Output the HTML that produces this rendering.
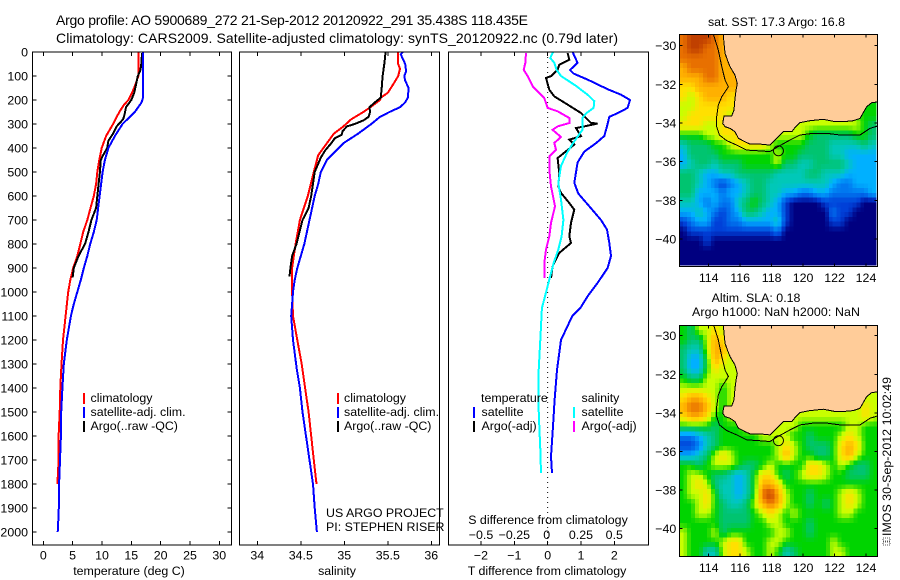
<!DOCTYPE html>
<html>
<head>
<meta charset="utf-8">
<title>Argo profile</title>
<style>
html,body{margin:0;padding:0;background:#fff;}
svg{display:block;}
text{font-family:"Liberation Sans",sans-serif;font-size:12.4px;fill:#000;}
</style>
</head>
<body>
<svg id="chart" width="900" height="580" viewBox="0 0 900 580" xmlns="http://www.w3.org/2000/svg">
  <text x="56" y="25" style="font-size:14px" textLength="472">Argo profile: AO 5900689_272 21-Sep-2012 20120922_291 35.438S 118.435E</text>
  <text x="56" y="43" style="font-size:14px" textLength="562">Climatology: CARS2009. Satellite-adjusted climatology: synTS_20120922.nc (0.79d later)</text>

  <g id="temp-panel"></g>
  <g id="sal-panel"></g>
  <g id="diff-panel"></g>
  <g id="sst-map"></g>
  <g id="sla-map"></g>

  <text x="129" y="575" text-anchor="middle">temperature (deg C)</text>
  <text x="337" y="575" text-anchor="middle">salinity</text>
  <text x="547" y="575" text-anchor="middle">T difference from climatology</text>
  <text x="548" y="524" text-anchor="middle">S difference from climatology</text>

  <g>
    <rect x="83" y="393" width="2" height="11" fill="#ff0000"/>
    <rect x="83" y="407" width="2" height="11" fill="#0000ff"/>
    <rect x="83" y="421" width="2" height="11" fill="#000"/>
    <text x="90.5" y="402">climatology</text>
    <text x="90.5" y="416">satellite-adj. clim.</text>
    <text x="90.5" y="430">Argo(..raw -QC)</text>
  </g>
  <g>
    <rect x="337" y="393" width="2" height="11" fill="#ff0000"/>
    <rect x="337" y="407" width="2" height="11" fill="#0000ff"/>
    <rect x="337" y="421" width="2" height="11" fill="#000"/>
    <text x="344" y="402">climatology</text>
    <text x="344" y="416">satellite-adj. clim.</text>
    <text x="344" y="430">Argo(..raw -QC)</text>
  </g>
  <text x="326" y="517">US ARGO PROJECT</text>
  <text x="326" y="531">PI: STEPHEN RISER</text>

  <g>
    <text x="481" y="402">temperature</text>
    <text x="581.5" y="402">salinity</text>
    <rect x="473" y="407" width="2" height="11" fill="#0000ff"/>
    <rect x="473" y="421" width="2" height="11" fill="#000"/>
    <rect x="573" y="407" width="2" height="11" fill="#00ffff"/>
    <rect x="573" y="421" width="2" height="11" fill="#ff00ff"/>
    <text x="481.5" y="416">satellite</text>
    <text x="481.5" y="430">Argo(-adj)</text>
    <text x="581.5" y="416">satellite</text>
    <text x="581.5" y="430">Argo(-adj)</text>
  </g>

  <text x="776.5" y="26" text-anchor="middle">sat. SST: 17.3 Argo: 16.8</text>
  <text x="756" y="302" text-anchor="middle">Altim. SLA: 0.18</text>
  <text x="776" y="316" textLength="168" text-anchor="middle">Argo h1000: NaN h2000: NaN</text>

  <text transform="translate(891,536) rotate(-90)" textLength="159">IMOS 30-Sep-2012 10:02:49</text>
  <g fill="none" stroke="#555" stroke-width="1" stroke-dasharray="1 1">
    <rect x="883" y="538" width="7" height="3"/>
    <rect x="883" y="542" width="7" height="3"/>
  </g>
</svg>
<script>
/* ---------- axis ticks ---------- */
const depthTicks = [0,100,200,300,400,500,600,700,800,900,1000,1100,1200,1300,1400,1500,1600,1700,1800,1900,2000];
const tempTicks = [0,5,10,15,20,25,30];
const salTicks = [34,34.5,35,35.5,36];
const salTickLabels = ['34','34.5','35','35.5','36'];
const tDiffTicks = [-2,-1,0,1,2];
const sDiffTicks = [-0.5,-0.25,0,0.25,0.5];
const lonTicks = [114,116,118,120,122,124];
const latTicks = [-30,-32,-34,-36,-38,-40];

/* ---------- temperature profiles ---------- */
const climTempDepth = [0,100,150,200,220,250,300,350,400,450,500,550,600,650,700,750,800,850,900,950,1000,1100,1200,1300,1400,1500,1600,1700,1800];
const climTemp = [16.25,16.2,15.5,14.5,13.75,12.95,11.9,10.7,9.95,9.55,9.2,9.0,8.6,8.05,7.5,6.8,6.3,5.8,5.1,4.6,4.25,3.8,3.35,3.1,2.9,2.8,2.6,2.6,2.4];
const satTempDepth = [0,190,210,250,300,350,400,450,500,600,700,750,800,850,900,950,1000,1050,1100,1200,1300,1400,1500,1600,1700,1800,1900,1950,2000];
const satTemp = [17,17,16.75,15.6,13.5,12.2,11.1,10.5,10.1,9.6,9.1,8.6,8,7.5,6.9,6.4,5.8,5.2,4.7,4,3.5,3.25,3.05,3,2.85,2.7,2.65,2.55,2.45];
const argoTempDepth = [5,40,60,80,90,100,130,170,200,230,260,280,295,310,340,370,400,430,450,500,600,650,700,750,800,850,900,940];
const argoTemp = [16.8,16.76,16.65,16.5,16.3,16.1,15.85,15.5,15,14.1,13.85,13.6,13.07,12.5,11.9,11.1,10.9,10.2,9.8,9.65,9.2,9,8.2,7.7,7.1,6,5.2,5];

/* ---------- salinity profiles ---------- */
const climSalDepth = [0,50,70,100,130,170,190,200,230,250,280,310,340,380,430,500,600,700,800,900,1000,1100,1200,1300,1400,1500,1600,1700,1800];
const climSal = [35.62,35.62,35.64,35.62,35.57,35.5,35.42,35.41,35.3,35.22,35.08,34.99,34.88,34.8,34.7,34.65,34.58,34.49,34.44,34.4,34.4,34.41,34.46,34.51,34.55,34.59,34.62,34.65,34.68];
const satSalDepth = [0,10,50,80,100,120,150,190,210,230,250,270,300,340,380,420,450,500,550,600,700,800,850,900,950,1000,1050,1100,1200,1325,1400,1500,1600,1700,1800,1900,2000];
const satSal = [35.67,35.65,35.7,35.71,35.69,35.7,35.74,35.73,35.7,35.64,35.52,35.41,35.31,35.16,34.99,34.88,34.8,34.73,34.7,34.66,34.6,34.54,34.5,34.46,34.43,34.41,34.4,34.39,34.41,34.455,34.49,34.52,34.56,34.6,34.64,34.66,34.685];
const argoSalDepth = [0,50,100,150,190,210,230,250,270,285,300,310,330,345,360,380,410,440,500,600,650,700,800,850,900,935];
const argoSal = [35.475,35.46,35.44,35.43,35.42,35.35,35.29,35.295,35.28,35.22,35.12,35.03,34.98,34.97,34.89,34.85,34.78,34.73,34.66,34.62,34.59,34.52,34.45,34.4,34.38,34.37];

/* ---------- differences from climatology ---------- */
const satTDiffDepth = [0,25,45,75,90,115,155,178,200,233,255,270,310,350,380,415,460,545,590,643,700,740,795,850,900,962,1018,1067,1100,1200,1325,1450,1560,1685,1755];
const satTDiff = [0.75,0.83,0.9,0.67,0.78,1.2,1.8,2.2,2.47,2.4,2.1,1.85,1.78,1.7,1.45,1.1,0.9,0.8,0.92,1.25,1.6,1.78,1.85,1.9,1.8,1.5,1.2,0.98,0.74,0.4,0.28,0.21,0.16,0.1,0.13];
const argoTDiffDepth = [4,32,53,74,101,108,157,185,219,254,296,298,310,317,351,365,386,442,504,560,587,629,657,712,768,796,837,893,942];
const argoTDiff = [0.6,0.65,0.35,0.3,0.1,-0.05,0.05,0.2,0.6,1,1.3,1.5,1.1,0.85,1,0.65,0.8,0.3,0.35,0.32,0.4,0.65,0.8,0.7,0.65,0.7,0.35,0.15,0.1];
const satSDiffDepth = [0,25,45,75,100,140,178,205,233,255,275,325,380,420,475,545,615,700,768,823,880,950,1018,1067,1200,1325,1450,1560,1655,1755];
const satSDiff = [0.04,0.02,0.05,0.068,0.1,0.21,0.3,0.35,0.345,0.29,0.26,0.26,0.19,0.145,0.1,0.08,0.1,0.118,0.105,0.08,0.045,0.012,-0.02,-0.043,-0.055,-0.0675,-0.07,-0.0625,-0.055,-0.05];
const argoSDiffDepth = [4,46,74,101,143,192,233,247,275,296,310,324,354,379,407,435,490,560,643,712,768,823,879,942];
const argoSDiff = [-0.1625,-0.1675,-0.18,-0.15,-0.1125,-0.025,0,0.075,0.1625,0.1625,0.075,0.0375,0.1,0.05,0.0625,0.0125,0.0125,0.025,0.055,0.025,0.0125,-0.0125,-0.025,-0.025];

/* ---------- map data (colour level per 0.5 degree cell, _ = land) ---------- */
const _ = null;
const sstLevels = [
[10,11,11,11,10,9,_,_,_,_,_,_,_,_,_,_,_,_,_,_,_,_,_,_,_],
[10,11,11,10,10,9,_,_,_,_,_,_,_,_,_,_,_,_,_,_,_,_,_,_,_],
[10,10,10,10,10,9,_,_,_,_,_,_,_,_,_,_,_,_,_,_,_,_,_,_,_],
[9,10,10,10,10,9,9,_,_,_,_,_,_,_,_,_,_,_,_,_,_,_,_,_,_],
[9,9,9,10,10,9,9,9,_,_,_,_,_,_,_,_,_,_,_,_,_,_,_,_,_],
[8,8,9,9,9,9,9,9,_,_,_,_,_,_,_,_,_,_,_,_,_,_,_,_,_],
[8,7,8,9,9,9,8,8,_,_,_,_,_,_,_,_,_,_,_,_,_,_,_,_,_],
[7,7,8,8,8,8,8,_,_,_,_,_,_,_,_,_,_,_,_,_,_,_,_,_,_],
[7,8,8,8,8,8,7,_,_,_,_,_,_,_,_,_,_,_,_,_,_,_,_,6,6],
[8,8,8,7,7,8,8,_,_,_,_,_,_,_,7,7,7,7,7,7,7,7,7,6,5],
[6,6,6,7,7,8,8,8,_,_,_,_,7,7,7,7,6,5,5,5,5,5,6,6,5],
[4,5,5,5,6,6,7,8,8,8,8,7,6,6,6,6,5,5,5,4,4,4,4,5,4],
[3,5,5,5,5,6,6,6,6,6,6,6,7,6,6,5,5,5,5,4,4,3,3,3,3],
[3,4,5,5,4,5,5,5,6,6,6,6,7,5,5,4,4,5,5,5,5,4,3,3,3],
[5,5,4,3,3,4,4,5,5,5,5,5,4,4,4,4,5,5,4,4,4,3,3,3,3],
[5,5,4,3,2,1,2,3,4,5,5,4,4,4,4,4,4,4,4,3,2,2,3,3,3],
[5,5,3,3,3,2,3,3,4,5,5,4,4,3,3,2,2,3,3,2,2,2,2,2,3],
[4,4,3,2,3,2,2,4,5,6,5,4,3,1,0,0,0,0,1,1,1,1,1,0,0],
[3,3,4,3,2,1,2,3,5,5,4,3,3,1,0,0,0,0,0,2,1,1,0,0,0],
[1,2,3,3,1,1,2,2,3,3,3,3,4,1,0,0,0,0,0,1,1,0,0,0,0],
[0,1,1,1,1,1,1,1,1,1,1,1,2,0,0,0,0,0,0,0,0,0,0,0,0],
[0,0,0,1,0,0,0,0,0,0,0,0,0,0,0,0,0,0,0,0,0,0,0,0,0],
[0,0,0,0,0,0,0,0,0,0,0,0,0,0,0,0,0,0,0,0,0,0,0,0,0],
[0,0,0,0,0,0,0,0,0,0,0,0,0,0,0,0,0,0,0,0,0,0,0,0,0]
];
const slaLevels = [
[6,5,7,7,8,7,_,_,_,_,_,_,_,_,_,_,_,_,_,_,_,_,_,_,_],
[6,5,5,7,9,8,_,_,_,_,_,_,_,_,_,_,_,_,_,_,_,_,_,_,_],
[5,4,4,7,9,9,7,_,_,_,_,_,_,_,_,_,_,_,_,_,_,_,_,_,_],
[5,3,3,6,9,8,7,7,_,_,_,_,_,_,_,_,_,_,_,_,_,_,_,_,_],
[5,3,3,6,8,7,7,7,_,_,_,_,_,_,_,_,_,_,_,_,_,_,_,_,_],
[6,5,5,7,7,7,7,7,_,_,_,_,_,_,_,_,_,_,_,_,_,_,_,_,_],
[7,7,7,7,7,6,7,7,_,_,_,_,_,_,_,_,_,_,_,_,_,_,_,_,_],
[8,9,9,8,7,6,7,_,_,_,_,_,_,_,_,_,_,_,_,_,_,_,_,7,7],
[9,10,10,9,7,6,7,_,_,_,_,_,_,_,7,7,7,7,7,7,7,7,7,8,7],
[8,9,9,8,6,6,7,7,_,_,_,_,7,7,7,7,7,7,7,7,7,7,7,8,7],
[6,6,6,6,5,6,6,6,7,7,7,7,7,7,7,6,6,6,6,6,6,7,7,6,6],
[2,2,3,4,5,6,6,6,6,6,7,7,7,7,6,6,5,6,6,6,7,8,7,6,6],
[1,1,2,4,5,6,6,6,6,6,6,6,7,8,7,6,5,5,5,6,8,9,8,6,6],
[3,3,4,5,7,8,7,6,6,6,6,6,7,9,7,6,6,5,5,6,8,9,7,6,6],
[6,6,5,6,7,7,7,6,5,5,6,7,6,6,6,6,8,8,7,6,7,6,5,5,6],
[6,7,7,6,5,5,4,3,4,6,8,8,6,5,6,7,8,8,7,6,6,5,5,5,6],
[6,7,8,7,5,4,4,3,4,6,9,9,8,6,6,6,6,6,6,6,6,6,6,6,6],
[6,7,7,8,6,4,4,3,4,6,10,11,9,7,6,6,5,6,6,6,7,8,7,6,6],
[6,6,7,8,6,5,4,4,5,7,9,10,9,7,6,6,5,6,5,6,7,8,7,6,6],
[6,6,7,7,6,5,5,5,5,6,7,8,7,6,7,6,6,6,6,6,7,7,6,6,6],
[6,6,6,6,6,5,5,5,5,6,6,7,7,6,6,6,5,6,6,6,6,6,6,6,6],
[7,6,6,6,7,5,6,6,6,6,6,6,7,7,6,6,5,6,6,6,6,6,6,6,6],
[7,6,6,6,6,7,8,8,6,6,6,7,7,6,6,6,6,6,6,7,6,6,6,6,6],
[7,6,6,4,4,7,8,8,7,6,6,7,6,4,5,6,6,6,6,7,7,6,6,6,6]
];
const coastLon = [114.93,114.97,115.04,115.19,115.36,115.67,115.82,115.74,115.67,115.61,115.46,114.97,114.89,115.04,115.36,115.67,115.89,116.31,116.63,117.26,117.9,118.43,118.75,119.28,119.53,119.81,120.44,121.29,122.03,122.56,123.19,123.62,124.04,124.36,124.72];
const coastLat = [-29.41,-29.88,-30.4,-30.74,-31.09,-31.52,-31.95,-32.29,-32.72,-33.33,-33.64,-33.64,-34.02,-34.19,-34.28,-34.45,-34.79,-34.97,-35.09,-35.09,-35.14,-34.71,-34.45,-34.45,-34.19,-33.98,-33.88,-33.81,-33.93,-33.93,-33.88,-33.76,-33.16,-32.95,-32.91];
const isobathLon = [114.3,114.61,114.83,115.04,115.25,114.83,114.61,114.51,114.51,114.68,115.14,115.78,116.42,117.05,117.9,118.32,119.17,119.81,120.65,121.5,122.35,123.62,124.25,124.72];
const isobathLat = [-29.41,-30.22,-31.09,-31.78,-32.12,-32.64,-33.07,-33.67,-34.19,-34.62,-34.91,-35.14,-35.4,-35.43,-35.48,-35.26,-34.88,-34.62,-34.53,-34.53,-34.62,-34.62,-34.28,-34.16];
const profileLon = [118.435];
const profileLat = [-35.438];

/* ---------- helpers ---------- */
const NS = 'http://www.w3.org/2000/svg';
function mk(tag, parent){ const e = document.createElementNS(NS, tag); parent.appendChild(e); return e; }
function scale(d0, d1, r0, r1){ return v => r0 + (v - d0) * (r1 - r0) / (d1 - d0); }
function fmt(v){ return String(v).replace('-', '\u2212'); }

function frame(parent, x0, y0, x1, y1){
  const r = mk('rect', parent);
  r.setAttribute('x', x0); r.setAttribute('y', y0);
  r.setAttribute('width', x1 - x0); r.setAttribute('height', y1 - y0);
  r.setAttribute('fill', 'none'); r.setAttribute('stroke', '#000'); r.setAttribute('stroke-width', '1');
  r.setAttribute('shape-rendering', 'crispEdges');
  
  
}
function tick(parent, x1, y1, x2, y2){
  const l = mk('line', parent);
  l.setAttribute('x1', x1); l.setAttribute('y1', y1); l.setAttribute('x2', x2); l.setAttribute('y2', y2);
  l.setAttribute('stroke', '#000'); l.setAttribute('stroke-width', '1');
  l.setAttribute('shape-rendering', 'crispEdges');
  
  
}
function label(parent, x, y, str, anchor){
  const t = mk('text', parent);
  t.setAttribute('x', x); t.setAttribute('y', y); t.setAttribute('text-anchor', anchor);
  t.textContent = str;
  
  
}
function xAxis(parent, ticks, labels, sx, y0, y1, labelY, len){
  ticks.forEach((v, i) => {
    const x = sx(v);
    tick(parent, x, y1, x, y1 - len);
    tick(parent, x, y0, x, y0 + len);
    if (labels) label(parent, x, labelY, labels[i], 'middle');
  });
}
function yAxis(parent, ticks, sy, x0, x1, labelX, len){
  ticks.forEach(v => {
    const y = sy(v);
    tick(parent, x0, y, x0 + len, y);
    tick(parent, x1, y, x1 - len, y);
    label(parent, labelX, y + 4.5, fmt(v), 'end');
  });
}
function profile(parent, depths, vals, sx, sy, color, width, name){
  const p = mk('polyline', parent);
  p.setAttribute('points', depths.map((d, i) => sx(vals[i]).toFixed(1) + ',' + sy(d).toFixed(1)).join(' '));
  p.setAttribute('fill', 'none'); p.setAttribute('stroke', color); p.setAttribute('stroke-width', width);
  p.setAttribute('shape-rendering', 'crispEdges');
  
  
}

/* ---------- profile panels ---------- */
const sy = scale(0, 2000, 52, 532);
const PANEL_TOP = 52, PANEL_BOTTOM = 545;

const tempG = document.getElementById('temp-panel');
const sxT = scale(0, 30, 43.3, 219.3);
profile(tempG, climTempDepth, climTemp, sxT, sy, '#ff0000', 2, 'climatology-temperature-line');
profile(tempG, argoTempDepth, argoTemp, sxT, sy, '#000000', 2, 'argo-temperature-line');
profile(tempG, satTempDepth, satTemp, sxT, sy, '#0000ff', 2, 'satellite-temperature-line');
frame(tempG, 32.3, PANEL_TOP, 231.3, PANEL_BOTTOM);
xAxis(tempG, tempTicks, tempTicks.map(String), sxT, PANEL_TOP, PANEL_BOTTOM, 559.5, 4);
yAxis(tempG, depthTicks, sy, 32.3, 231.3, 28, 4);

const salG = document.getElementById('sal-panel');
const sxS = scale(34, 36, 257.3, 431.3);
profile(salG, climSalDepth, climSal, sxS, sy, '#ff0000', 2, 'climatology-salinity-line');
profile(salG, satSalDepth, satSal, sxS, sy, '#0000ff', 2, 'satellite-salinity-line');
profile(salG, argoSalDepth, argoSal, sxS, sy, '#000000', 2, 'argo-salinity-line');
frame(salG, 239.5, PANEL_TOP, 439.3, PANEL_BOTTOM);
xAxis(salG, salTicks, salTickLabels, sxS, PANEL_TOP, PANEL_BOTTOM, 559.5, 4);

const diffG = document.getElementById('diff-panel');
const sxD = scale(-2, 2, 481, 614.3);
const sxSD = scale(-0.5, 0.5, 481, 614.3);
const zero = mk('line', diffG);
zero.setAttribute('x1', sxD(0)); zero.setAttribute('x2', sxD(0));
zero.setAttribute('y1', PANEL_TOP); zero.setAttribute('y2', PANEL_BOTTOM);
zero.setAttribute('stroke', '#000'); zero.setAttribute('stroke-width', '1'); zero.setAttribute('stroke-dasharray', '1 4');


profile(diffG, satTDiffDepth, satTDiff, sxD, sy, '#0000ff', 2, 'satellite-t-difference-line');
profile(diffG, argoTDiffDepth, argoTDiff, sxD, sy, '#000000', 2, 'argo-t-difference-line');
profile(diffG, satSDiffDepth, satSDiff, sxSD, sy, '#00ffff', 2, 'satellite-s-difference-line');
profile(diffG, argoSDiffDepth, argoSDiff, sxSD, sy, '#ff00ff', 2, 'argo-s-difference-line');
frame(diffG, 448.3, PANEL_TOP, 648.3, PANEL_BOTTOM);
xAxis(diffG, tDiffTicks, tDiffTicks.map(fmt), sxD, PANEL_TOP, PANEL_BOTTOM, 559.5, 4);
sDiffTicks.forEach(v => label(diffG, sxSD(v) - (v === 0 ? 1 : 0), 539, fmt(v), 'middle'));

/* ---------- maps ---------- */
const PALETTE = [[0,0,128],[0,64,216],[0,120,240],[0,176,255],[0,200,184],[0,196,112],[0,212,0],[200,255,0],[255,224,0],[255,176,0],[232,112,0],[192,64,0]];
function colourAt(level){
  const i = Math.max(0, Math.min(PALETTE.length - 2, Math.floor(level)));
  const f = Math.max(0, Math.min(1, level - i));
  const a = PALETTE[i], b = PALETTE[i + 1];
  return 'rgb(' + a.map((v, k) => Math.round(v + (b[k] - v) * f)).join(',') + ')';
}
/* land cells have no value: borrow the neighbouring sea values so the shading runs under the land mask */
function fillLand(levels){
  const grid = levels.map(r => r.slice());
  const rows = grid.length, cols = grid[0].length;
  for (let pass = 0; pass < 30; pass++) {
    const snap = grid.map(r => r.slice());
    for (let r = 0; r < rows; r++) for (let c = 0; c < cols; c++) {
      if (snap[r][c] !== null) continue;
      let sum = 0, n = 0;
      [[r-1,c],[r+1,c],[r,c-1],[r,c+1]].forEach(p => {
        if (p[0] >= 0 && p[0] < rows && p[1] >= 0 && p[1] < cols && snap[p[0]][p[1]] !== null) { sum += snap[p[0]][p[1]]; n++; }
      });
      if (n) grid[r][c] = sum / n;
    }
  }
  return grid;
}
function sample(grid, u, v){
  const rows = grid.length, cols = grid[0].length;
  const cu = Math.max(0, Math.min(cols - 1, u - 0.5)), cv = Math.max(0, Math.min(rows - 1, v - 0.5));
  const c0 = Math.floor(cu), r0 = Math.floor(cv);
  const c1 = Math.min(cols - 1, c0 + 1), r1 = Math.min(rows - 1, r0 + 1);
  const fu = cu - c0, fv = cv - r0;
  return (grid[r0][c0] * (1 - fu) + grid[r0][c1] * fu) * (1 - fv) + (grid[r1][c0] * (1 - fu) + grid[r1][c1] * fu) * fv;
}
function drawMap(groupId, levels, top, bottom, lat30, lat40, cellRight, cellBottom, clipId){
  const g = document.getElementById(groupId);
  const x0 = 679.3, x1 = 877.3;
  const sLon = scale(114, 124, 708.7, 866);
  const sLat = scale(-30, -40, lat30, lat40);
  const grid = fillLand(levels);
  const SUB = 2;
  const nRows = grid.length * SUB, nCols = grid[0].length * SUB;
  const w = (cellRight - x0) / nCols, h = (cellBottom - top) / nRows;
  const defs = mk('defs', g);
  const cp = mk('clipPath', defs);
  cp.setAttribute('id', clipId);
  const cr = mk('rect', cp);
  cr.setAttribute('x', x0); cr.setAttribute('y', top); cr.setAttribute('width', x1 - x0); cr.setAttribute('height', bottom - top);
  for (let r = 0; r < nRows; r++) for (let c = 0; c < nCols; c++) {
    const cell = mk('rect', g);
    cell.setAttribute('x', (x0 + c * w).toFixed(2));
    cell.setAttribute('y', (top + r * h).toFixed(2));
    cell.setAttribute('width', (w + 0.4).toFixed(2));
    cell.setAttribute('height', (h + 0.4).toFixed(2));
    cell.setAttribute('fill', colourAt(sample(grid, (c + 0.5) / SUB, (r + 0.5) / SUB)));
    cell.setAttribute('shape-rendering', 'crispEdges');
    
    
  }
  const land = mk('polygon', g);
  const pts = coastLon.map((lon, i) => sLon(lon).toFixed(1) + ',' + sLat(coastLat[i]).toFixed(1));
  pts.push(x1 + ',' + top);
  land.setAttribute('points', pts.join(' '));
  land.setAttribute('fill', '#ffcc99');
  land.setAttribute('clip-path', 'url(#' + clipId + ')');
  
  
  const coast = mk('polyline', g);
  coast.setAttribute('points', coastLon.map((lon, i) => sLon(lon).toFixed(1) + ',' + sLat(coastLat[i]).toFixed(1)).join(' '));
  coast.setAttribute('fill', 'none'); coast.setAttribute('stroke', '#000'); coast.setAttribute('stroke-width', '1');
  coast.setAttribute('shape-rendering', 'crispEdges');
  coast.setAttribute('clip-path', 'url(#' + clipId + ')');
  
  
  const iso = mk('polyline', g);
  iso.setAttribute('points', isobathLon.map((lon, i) => sLon(lon).toFixed(1) + ',' + sLat(isobathLat[i]).toFixed(1)).join(' '));
  iso.setAttribute('fill', 'none'); iso.setAttribute('stroke', '#000'); iso.setAttribute('stroke-width', '1');
  iso.setAttribute('shape-rendering', 'crispEdges');
  iso.setAttribute('clip-path', 'url(#' + clipId + ')');
  
  
  const marker = mk('circle', g);
  marker.setAttribute('cx', sLon(profileLon[0]));
  marker.setAttribute('cy', sLat(profileLat[0]));
  marker.setAttribute('r', 5);
  marker.setAttribute('fill', 'none'); marker.setAttribute('stroke', '#000'); marker.setAttribute('stroke-width', '0.9');
  
  
  frame(g, x0, top, x1, bottom);
  xAxis(g, lonTicks, lonTicks.map(String), sLon, top, bottom, bottom + 15.5, 3);
  yAxis(g, latTicks, sLat, x0, x1, x0 - 3, 3);
}
drawMap('sst-map', sstLevels, 34.3, 266.7, 45.7, 239, 876, 265, 'clip-sst');
drawMap('sla-map', slaLevels, 325.3, 556.7, 335.7, 528.7, 877.3, 556.7, 'clip-sla');
</script>
</body>
</html>
